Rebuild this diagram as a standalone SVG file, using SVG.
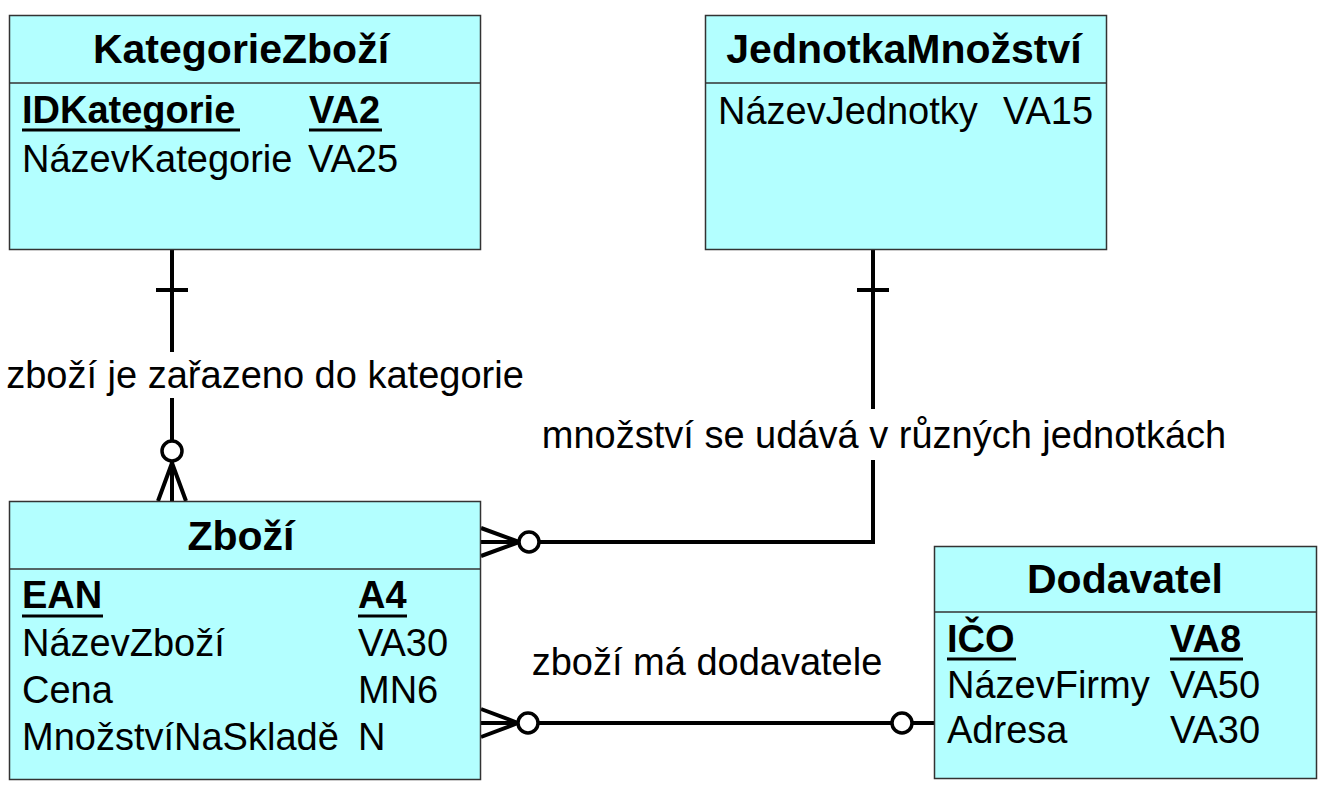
<svg xmlns="http://www.w3.org/2000/svg" width="1331" height="796" viewBox="0 0 1331 796">
<style>
.box{fill:#b3ffff;stroke:#333;stroke-width:1.5}
.sep{stroke:#333;stroke-width:1.5}
.title{font-family:"Liberation Sans",Arial,sans-serif;font-size:41px;font-weight:bold;text-anchor:middle;fill:#000}
.attr{font-family:"Liberation Sans",Arial,sans-serif;font-size:38px;fill:#000}
.key{font-weight:bold}
.ul{stroke:#000;stroke-width:3}
.lbl{font-family:"Liberation Sans",Arial,sans-serif;font-size:38px;fill:#000;text-anchor:middle}
.conn{fill:none;stroke:#000;stroke-width:4}
.ring{fill:#fff;stroke:#000;stroke-width:3.5}
</style>
<rect width="1331" height="796" fill="#fff"/>

<g id="connectors">
  <!-- KategorieZboží - Zboží -->
  <path class="conn" d="M172 250 V352 M172 398 V501 M156 290 H188 M172 463 L158 501 M172 463 L186 501"/>
  <circle class="ring" cx="172" cy="451" r="10"/>
  <text class="lbl" x="265" y="388">zboží je zařazeno do kategorie</text>
  <!-- JednotkaMnožství - Zboží -->
  <path class="conn" d="M873 250 V409 M873 460 V542 H540 M857 290 H889 M481 542 H519 M481 528 L519 542 M481 556 L519 542"/>
  <circle class="ring" cx="529" cy="542" r="10"/>
  <text class="lbl" x="884" y="448">množství se udává v různých jednotkách</text>
  <!-- Zboží - Dodavatel -->
  <path class="conn" d="M539 723 H892 M912 723 H934 M481 723 H518 M481 709 L518 723 M481 737 L518 723"/>
  <circle class="ring" cx="528" cy="723" r="10"/>
  <circle class="ring" cx="902" cy="723" r="10"/>
  <text class="lbl" x="707" y="675">zboží má dodavatele</text>
</g>

<g id="KategorieZbozi">
  <rect class="box" x="9.5" y="15.5" width="471" height="234"/>
  <line class="sep" x1="9.5" y1="83" x2="480.5" y2="83"/>
  <text class="title" x="241" y="63">KategorieZboží</text>
  <text class="attr key" x="22" y="123">IDKategorie</text>
  <text class="attr key" x="309" y="123">VA2</text>
  <line class="ul" x1="22" y1="130" x2="240" y2="130"/>
  <line class="ul" x1="309" y1="130" x2="382" y2="130"/>
  <text class="attr" x="22" y="172">NázevKategorie</text>
  <text class="attr" x="308" y="172">VA25</text>
</g>

<g id="JednotkaMnozstvi">
  <rect class="box" x="705.5" y="15.5" width="401" height="234"/>
  <line class="sep" x1="705.5" y1="83" x2="1106.5" y2="83"/>
  <text class="title" x="904" y="63">JednotkaMnožství</text>
  <text class="attr" x="718" y="124">NázevJednotky</text>
  <text class="attr" x="1003" y="124">VA15</text>
</g>

<g id="Zbozi">
  <rect class="box" x="9.5" y="501.5" width="471" height="278"/>
  <line class="sep" x1="9.5" y1="569" x2="480.5" y2="569"/>
  <text class="title" x="241" y="550">Zboží</text>
  <text class="attr key" x="22" y="608">EAN</text>
  <text class="attr key" x="358" y="608">A4</text>
  <line class="ul" x1="22" y1="616" x2="103" y2="616"/>
  <line class="ul" x1="358" y1="616" x2="407" y2="616"/>
  <text class="attr" x="22" y="656">NázevZboží</text>
  <text class="attr" x="358" y="656">VA30</text>
  <text class="attr" x="22" y="703">Cena</text>
  <text class="attr" x="358" y="703">MN6</text>
  <text class="attr" x="22" y="750">MnožstvíNaSkladě</text>
  <text class="attr" x="358" y="750">N</text>
</g>

<g id="Dodavatel">
  <rect class="box" x="934.5" y="546.5" width="382" height="232"/>
  <line class="sep" x1="934.5" y1="612" x2="1316.5" y2="612"/>
  <text class="title" x="1125" y="593">Dodavatel</text>
  <text class="attr key" x="947" y="652">IČO</text>
  <text class="attr key" x="1170" y="652">VA8</text>
  <line class="ul" x1="947" y1="659" x2="1016" y2="659"/>
  <line class="ul" x1="1170" y1="659" x2="1243" y2="659"/>
  <text class="attr" x="947" y="698">NázevFirmy</text>
  <text class="attr" x="1170" y="698">VA50</text>
  <text class="attr" x="947" y="743">Adresa</text>
  <text class="attr" x="1170" y="743">VA30</text>
</g>
</svg>
